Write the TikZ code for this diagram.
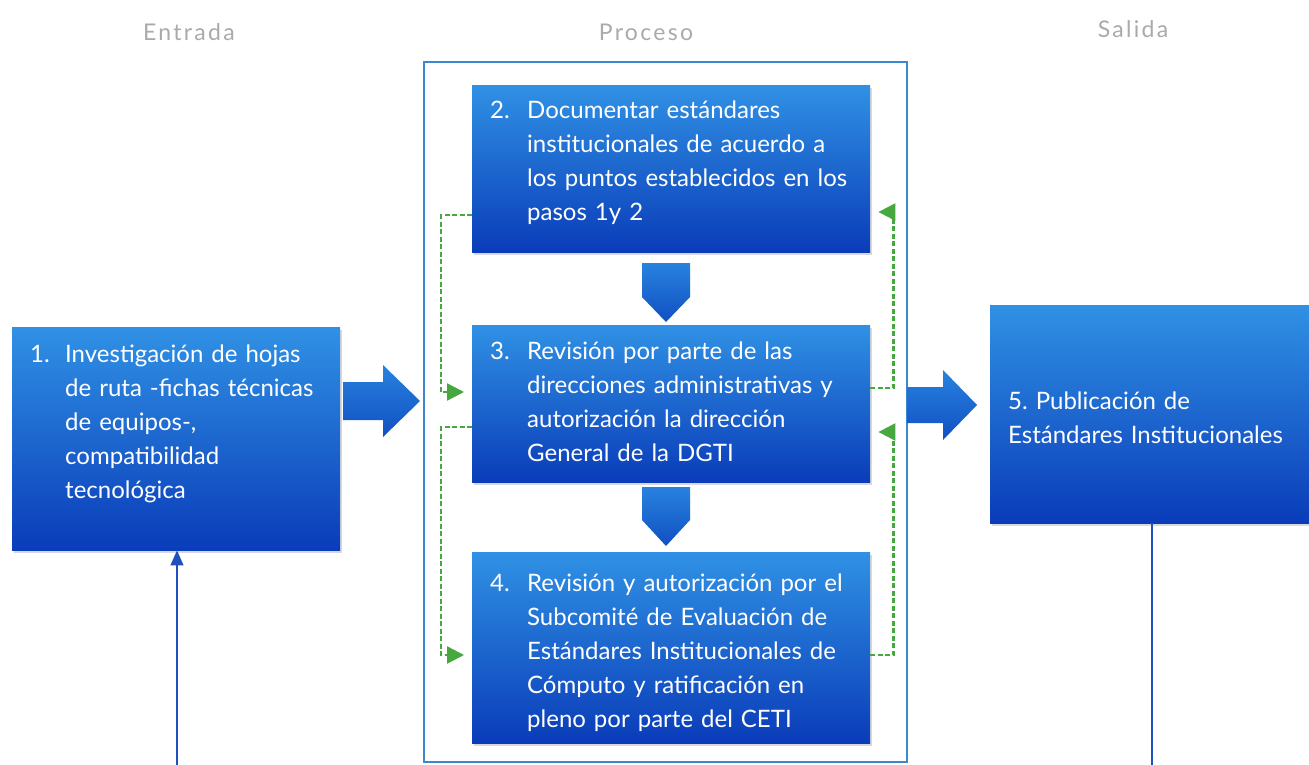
\documentclass[tikz,border=0pt]{standalone}
\usepackage{fontspec}
\setmainfont{Lato}
\newfontfamily\headfont[LetterSpace=10]{Lato}
\usetikzlibrary{arrows.meta,shadows}
\definecolor{boxtop}{RGB}{48,145,228}
\definecolor{boxbot}{RGB}{10,60,185}
\definecolor{arrtop}{RGB}{40,130,222}
\definecolor{arrbot}{RGB}{16,80,195}
\definecolor{framec}{RGB}{60,135,210}
\definecolor{dashg}{RGB}{70,168,62}
\definecolor{linec}{RGB}{30,80,190}
\definecolor{headc}{RGB}{170,170,170}
\newcommand{\boxfont}{\fontsize{24}{34}\selectfont}
\newcommand{\topstrut}[1]{\rule{0pt}{#1}}
\newcommand{\botstrut}[1]{\rule[-#1]{0pt}{#1}}
\tikzset{
  box/.style={anchor=north west, top color=boxtop, bottom color=boxbot, draw=none,
    inner xsep=18pt, inner ysep=0pt, align=left, text=white, font=\boxfont,
    drop shadow={shadow xshift=2pt, shadow yshift=-3pt, opacity=0.3}},
  header/.style={text=headc, font=\headfont\fontsize{23}{27}\selectfont},
  fb/.style={draw=dashg, line width=2.4pt, dash pattern=on 5pt off 2.5pt,
    -{Triangle[length=17pt,width=17pt,fill=dashg,sep=0pt]}, shorten >=8pt},
  blockarrow/.style={top color=arrtop, bottom color=arrbot, draw=none},
  thin/.style={draw=linec, line width=1.3pt},
}
\begin{document}
\begin{tikzpicture}[x=1pt,y=-1pt]
\useasboundingbox (0,0) rectangle (1309,765);
\fill[white] (0,0) rectangle (1309,765);

% headers
\node[header] (h1) at (189,32) {Entrada};
\node[header] (h2) at (646,32) {Proceso};
\node[header] (h3) at (1133,29) {Salida};

% process frame
\draw[draw=framec, line width=1.5pt] (424,62) rectangle (907,762);

% boxes
\node[box, minimum width=328, minimum height=223, text width=292] (b1) at (12,327)
 {\begin{tabular}{@{}p{35pt}@{}l@{}}1. & Investigación de hojas\\ & de ruta -fichas técnicas\\ & de equipos-,\\ & compatibilidad\\ & tecnológica\botstrut{40pt}\end{tabular}};
\node[box, minimum width=398, minimum height=167, text width=362] (b2) at (472,85)
 {\begin{tabular}{@{}p{37pt}@{}l@{}}2. & Documentar estándares\\ & institucionales de acuerdo a\\ & los puntos establecidos en los\\ & pasos 1y 2\botstrut{22pt}\end{tabular}};
\node[box, minimum width=398, minimum height=157, text width=362] (b3) at (472,325)
 {\begin{tabular}{@{}p{37pt}@{}l@{}}3. & Revisión por parte de las\\ & direcciones administrativas y\\ & autorización la dirección\\ & General de la DGTI\end{tabular}};
\node[box, minimum width=398, minimum height=191, text width=362] (b4) at (472,552)
 {\begin{tabular}{@{}p{37pt}@{}l@{}}\topstrut{34pt}4. & Revisión y autorización por el\\ & Subcomité de Evaluación de\\ & Estándares Institucionales de\\ & Cómputo y ratificación en\\ & pleno por parte del CETI\end{tabular}};
\node[box, minimum width=319, minimum height=218, text width=283] (b5) at (990,305)
 {\begin{tabular}{@{}l@{}}\topstrut{34pt}5.\ Publicación de\\ Estándares Institucionales\end{tabular}};

% block arrows
\shade[blockarrow] (343,382) -- (383,382) -- (383,365) -- (420,401) -- (383,437) -- (383,420) -- (343,420) -- cycle;
\shade[blockarrow] (907,387) -- (943,387) -- (943,370) -- (977,405) -- (943,440) -- (943,423) -- (907,423) -- cycle;
\shade[blockarrow] (642,263) -- (690,263) -- (690,297) -- (666,322) -- (642,297) -- cycle;
\shade[blockarrow] (642,487) -- (690,487) -- (690,520) -- (666,546) -- (642,520) -- cycle;

% feedback dashed connectors
\coordinate (ya) at (0,215);
\coordinate (yb) at (0,392);
\coordinate (yc) at (0,427);
\coordinate (yd) at (0,655);
\coordinate (ye) at (0,388);
\coordinate (yf) at (0,212);
\coordinate (yg) at (0,432);
\draw[fb] (b2.west |- ya) -- ++(-31,0) |- (b3.west |- yb);
\draw[fb] (b3.west |- yc) -- ++(-31,0) |- (b4.west |- yd);
\draw[fb] (b3.east |- ye) -- ++(23,0) |- (b2.east |- yf);
\draw[fb] (b4.east |- yd) -- ++(23,0) |- (b3.east |- yg);

% thin vertical lines
\coordinate (in1) at (177,765);
\coordinate (out5) at (1152,765);
\draw[thin, -{Triangle[length=15pt,width=13pt]}] (in1) -- (in1 |- b1.south);
\draw[thin] (b5.south -| out5) -- (out5);
\end{tikzpicture}
\end{document}
